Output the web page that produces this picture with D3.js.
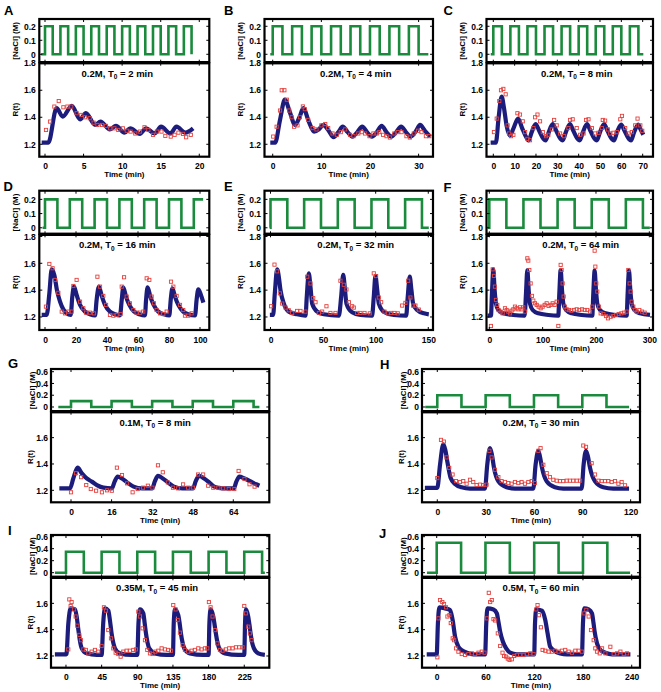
<!DOCTYPE html>
<html><head><meta charset="utf-8">
<script src="https://cdn.jsdelivr.net/npm/d3@7"></script>
<style>
body{margin:0;background:#fff}
svg{display:block}
text{font-family:"Liberation Sans",Arial,Helvetica,sans-serif;font-weight:bold;fill:#000}
.tl text{font-family:"Liberation Sans Narrow","Arial Narrow","Liberation Sans",sans-serif}
</style>
</head><body>
<svg id="c" width="661" height="692"></svg>
<script>
// ---------------- DATA ----------------
// NaCl step protocols: [time (min), concentration (M)]
const naclA=[[-0.5,0],[0,0.2],[1,0],[2,0.2],[3,0],[4,0.2],[5,0],[6,0.2],[7,0],[8,0.2],[9,0],[10,0.2],[11,0],[12,0.2],[13,0],[14,0.2],[15,0],[16,0.2],[17,0],[18,0.2],[19,0]];
const naclB=[[-0.5,0],[0,0.2],[2,0],[4,0.2],[6,0],[8,0.2],[10,0],[12,0.2],[14,0],[16,0.2],[18,0],[20,0.2],[22,0],[24,0.2],[26,0],[28,0.2],[30,0],[32,0]];
const naclC=[[-1.2,0],[0,0.2],[4,0],[8,0.2],[12,0],[16,0.2],[20,0],[24,0.2],[28,0],[32,0.2],[36,0],[40,0.2],[44,0],[48,0.2],[52,0],[56,0.2],[60,0],[64,0.2],[68,0],[70.3,0]];
const naclD=[[-1.5,0],[0,0.2],[8,0],[16,0.2],[24,0],[32,0.2],[40,0],[48,0.2],[56,0],[64,0.2],[72,0],[80,0.2],[88,0],[96,0.2],[102,0.2]];
const naclE=[[-0.8,0],[0,0.2],[16,0],[32,0.2],[48,0],[64,0.2],[80,0],[96,0.2],[112,0],[128,0.2],[144,0],[150.5,0]];
const naclF=[[-3,0],[0,0.2],[32,0],[64,0.2],[96,0],[128,0.2],[160,0],[192,0.2],[224,0],[256,0.2],[288,0],[301,0]];
const naclG=[[-5,0],[0,0.1],[8,0],[16,0.1],[24,0],[32,0.1],[40,0],[48,0.1],[56,0],[64,0.1],[72,0],[74.3,0]];
const naclH=[[-7.5,0],[0,0.2],[15,0],[30,0.2],[45,0],[60,0.2],[75,0],[90,0.2],[105,0],[119,0]];
const naclI=[[-14,0],[0,0.35],[22.5,0],[45,0.35],[67.5,0],[90,0.35],[112.5,0],[135,0.35],[157.5,0],[180,0.35],[202.5,0],[225,0.35],[247.5,0],[251,0]];
const naclJ=[[-12,0],[0,0.5],[30,0],[60,0.5],[90,0],[120,0.5],[150,0],[180,0.5],[210,0],[238,0]];

// Model curves R(t): [time, R]
const modelA=[[-0.43,1.212],[0.43,1.212],[1.5,1.467],[2.3,1.405],[3.47,1.484],[4.55,1.385],[5.3,1.43],[6.5,1.343],[7.2,1.368],[8.4,1.31],[9.2,1.336],[10.3,1.286],[11.05,1.318],[12.3,1.277],[13.1,1.318],[14.2,1.28],[15.05,1.33],[16.25,1.28],[17.05,1.33],[18.2,1.286],[19.2,1.318]];
const modelB=[[-0.5,1.212],[0.5,1.212],[1.5,1.38],[2.5,1.53],[3.5,1.44],[4.6,1.343],[5.5,1.40],[6.3,1.467],[7.4,1.37],[8.5,1.294],[9.5,1.31],[10.4,1.343],[11.5,1.30],[12.5,1.252],[13.5,1.29],[14.4,1.331],[15.4,1.29],[16.4,1.257],[17.4,1.29],[18.4,1.331],[19.4,1.29],[20.4,1.257],[21.4,1.29],[22.4,1.336],[23.4,1.29],[24.4,1.257],[25.4,1.29],[26.4,1.331],[27.4,1.29],[28.4,1.257],[29.4,1.295],[30.3,1.343],[31.3,1.30],[32.4,1.257]];
const modelC=[[-1.25,1.212],[1.2,1.212],[2.5,1.40],[3.9,1.553],[5,1.47],[6.2,1.34],[7.8,1.265],[9.5,1.32],[11.6,1.39],[13.5,1.32],[15.5,1.25],[16.5,1.228],[18,1.29],[19.8,1.35],[21.5,1.30],[23.5,1.24],[24.5,1.228],[26,1.29],[27.8,1.35],[29.5,1.30],[31.5,1.24],[32.5,1.228],[34,1.29],[35.9,1.35],[37.5,1.30],[39.5,1.24],[40.5,1.228],[42,1.29],[43.9,1.35],[45.5,1.30],[47.5,1.24],[48.5,1.228],[50,1.29],[51.9,1.35],[53.5,1.30],[55.5,1.24],[56.5,1.228],[58,1.29],[59.9,1.345],[61.5,1.30],[63.5,1.24],[64.5,1.228],[66,1.29],[67.9,1.345],[69,1.31],[70.3,1.27]];
const modelD=[[-2.15,1.215],[1.08,1.215],[2.8,1.376],[4.3,1.555],[6.0,1.513],[7.7,1.40],[9.7,1.314],[11.8,1.257],[14,1.227],[16.6,1.215],[17.6,1.35],[18.7,1.426],[20.4,1.364],[22.6,1.29],[25.8,1.24],[29,1.22],[32.3,1.212],[33.3,1.327],[34.8,1.426],[36.6,1.357],[38.7,1.29],[41.9,1.24],[45.2,1.22],[48.4,1.212],[49.5,1.327],[50.5,1.42],[52.3,1.35],[54.4,1.29],[57.4,1.24],[60.9,1.22],[64.5,1.212],[65.2,1.327],[66.2,1.42],[68,1.35],[70.1,1.29],[73.1,1.24],[76.8,1.22],[80.2,1.212],[81.1,1.327],[82.2,1.414],[83.9,1.35],[86,1.29],[89.2,1.24],[92.5,1.22],[96.8,1.212],[97.8,1.327],[98.9,1.406],[100.6,1.364],[102.2,1.307]];
const modelE=[[-0.6,1.215],[2.5,1.215],[4.1,1.376],[6.3,1.555],[7.9,1.50],[9.5,1.40],[12.7,1.30],[17.4,1.24],[25.3,1.22],[33.3,1.21],[34.5,1.352],[36.4,1.525],[38,1.426],[39.6,1.30],[44.4,1.24],[50.7,1.22],[65,1.21],[67.2,1.352],[69.1,1.513],[70.7,1.414],[72.2,1.30],[77.6,1.235],[85.6,1.215],[96.6,1.21],[98.2,1.352],[99.8,1.506],[101.4,1.406],[103,1.30],[108.4,1.235],[117.2,1.215],[129,1.21],[130.5,1.352],[132.4,1.50],[134,1.40],[135.6,1.30],[139.4,1.252],[145.8,1.227],[150.5,1.22]];
const modelF=[[-3.1,1.21],[3.1,1.21],[5,1.376],[7.5,1.555],[10,1.40],[12.5,1.30],[16.9,1.252],[26.3,1.227],[45,1.215],[66.3,1.21],[68.8,1.376],[71.3,1.55],[73.8,1.40],[76.3,1.30],[81.3,1.252],[91.9,1.227],[110.6,1.215],[129.4,1.21],[131.3,1.376],[133.8,1.55],[136.3,1.40],[138.8,1.30],[143.8,1.252],[154.4,1.227],[173.1,1.215],[193.1,1.21],[195,1.376],[197.5,1.545],[200,1.40],[202.5,1.30],[207.5,1.252],[218.1,1.227],[236.9,1.215],[257.5,1.21],[259.4,1.376],[261.9,1.545],[264.4,1.40],[266.9,1.30],[271.9,1.252],[282.5,1.227],[301.3,1.215]];
const modelG=[[-4.6,1.215],[-0.4,1.215],[0.9,1.29],[2.6,1.372],[4.2,1.33],[6.2,1.29],[8.2,1.266],[10.2,1.24],[12.8,1.22],[16.1,1.215],[17.2,1.266],[18.4,1.304],[20.1,1.29],[22.1,1.26],[24.7,1.228],[28,1.215],[32,1.215],[33.1,1.27],[34.3,1.31],[36.2,1.29],[38.2,1.26],[40.6,1.228],[43.9,1.215],[48.1,1.215],[49.2,1.27],[50.5,1.31],[52.5,1.29],[54.5,1.26],[56.5,1.228],[59.8,1.215],[64.2,1.215],[65.2,1.266],[66.4,1.304],[68.4,1.29],[71,1.266],[73,1.246],[74.3,1.235]];
const modelH=[[-7.7,1.218],[0,1.218],[1.7,1.394],[3.7,1.55],[5,1.507],[6.2,1.42],[8.3,1.293],[11,1.248],[15.1,1.223],[20.3,1.213],[29.6,1.213],[31,1.394],[32.7,1.52],[33.9,1.47],[35.2,1.37],[37.9,1.268],[43,1.223],[48.2,1.213],[59.6,1.213],[61,1.394],[62.7,1.50],[63.7,1.457],[65,1.37],[67.9,1.268],[73,1.223],[78.2,1.213],[89.6,1.213],[90.8,1.394],[92.3,1.50],[93.5,1.457],[94.8,1.37],[97.9,1.268],[103,1.223],[109.2,1.213],[119,1.213]];
const modelI=[[-14,1.213],[0.5,1.213],[3,1.45],[5.9,1.562],[11.4,1.554],[13.5,1.50],[15.6,1.40],[17.8,1.31],[19.8,1.26],[26,1.22],[38.7,1.208],[45,1.208],[47,1.45],[49.2,1.562],[53.4,1.545],[55.5,1.47],[57.6,1.37],[59.7,1.30],[61.8,1.258],[68,1.22],[82.8,1.208],[90,1.208],[91.5,1.45],[93.4,1.554],[97.6,1.524],[99.3,1.45],[101,1.37],[103,1.30],[105.1,1.258],[112.3,1.22],[127,1.208],[135,1.208],[136,1.45],[137.5,1.554],[141.7,1.51],[143.4,1.45],[145.1,1.37],[147.2,1.30],[149.3,1.258],[156.4,1.22],[173.3,1.208],[180,1.208],[181,1.45],[182.5,1.554],[185.9,1.50],[187.5,1.44],[189.2,1.37],[191.3,1.30],[193.4,1.258],[200.6,1.22],[217.4,1.208],[225,1.208],[226,1.45],[227.1,1.554],[230,1.50],[231.5,1.44],[233,1.37],[235,1.30],[237.2,1.258],[242.6,1.22],[251,1.208]];
const modelJ=[[-12.3,1.213],[0,1.213],[1.5,1.45],[3.3,1.57],[10.3,1.562],[16.4,1.55],[18,1.52],[19.7,1.47],[22.6,1.347],[26.7,1.27],[30.8,1.245],[37,1.225],[45.2,1.213],[59.6,1.213],[61,1.45],[62.5,1.562],[69.9,1.554],[74,1.524],[76,1.46],[78.1,1.384],[81.4,1.31],[85.5,1.258],[90.4,1.225],[98.6,1.213],[120,1.213],[121,1.45],[122.5,1.554],[129.5,1.544],[133.6,1.473],[136.5,1.372],[139.7,1.27],[144.7,1.24],[152,1.22],[160.3,1.213],[178.8,1.213],[180,1.45],[181.7,1.562],[187,1.554],[191.1,1.524],[193,1.45],[194.4,1.384],[197.3,1.296],[201.4,1.246],[207.6,1.225],[215.8,1.213],[238.4,1.213]];

// Measured data R(t): [time, R]
const dataA=[[0.13,1.306],[0.65,1.368],[1.21,1.479],[1.78,1.52],[2.38,1.474],[2.9,1.479],[3.4,1.479],[4.1,1.43],[4.7,1.417],[5.2,1.40],[5.8,1.393],[6.3,1.36],[6.8,1.343],[7.4,1.343],[7.9,1.336],[8.45,1.318],[9,1.318],[9.5,1.306],[10.1,1.318],[10.6,1.30],[11.1,1.294],[11.7,1.28],[12.3,1.294],[12.9,1.326],[13.4,1.306],[14,1.27],[14.5,1.294],[15.1,1.294],[15.6,1.262],[16.3,1.257],[16.8,1.27],[17.3,1.286],[17.9,1.277],[18.3,1.252],[18.9,1.27]];
const dataB=[[0.1,1.257],[0.8,1.33],[1.5,1.45],[1.85,1.6],[2.4,1.6],[2.9,1.53],[3.4,1.45],[3.9,1.40],[4.4,1.33],[5.1,1.34],[5.6,1.40],[6.2,1.48],[6.6,1.46],[7.3,1.38],[8.2,1.32],[9,1.31],[10,1.34],[10.8,1.35],[11.4,1.32],[12.3,1.28],[13.2,1.27],[14,1.29],[14.9,1.31],[15.9,1.27],[16.6,1.26],[17.6,1.28],[18.3,1.29],[19,1.28],[19.9,1.26],[20.7,1.28],[21.4,1.28],[21.9,1.29],[22.7,1.27],[23.4,1.26],[24.1,1.25],[25,1.28],[25.7,1.29],[26.5,1.29],[27.5,1.26],[28.2,1.25],[29,1.28],[29.9,1.30],[30.6,1.29],[31.5,1.26],[32.2,1.26]];
const dataC=[[0.3,1.29],[1.6,1.39],[2.8,1.52],[3.6,1.6],[4.7,1.61],[5.8,1.57],[6.7,1.34],[7.4,1.28],[8.3,1.26],[9.4,1.27],[11.3,1.43],[12.5,1.42],[13.8,1.37],[14.9,1.29],[16,1.24],[17.2,1.23],[18.8,1.32],[19.6,1.40],[20.7,1.42],[21.9,1.37],[23.2,1.29],[24.7,1.26],[25.8,1.27],[27.4,1.31],[28.5,1.38],[29.7,1.34],[31.3,1.28],[33.2,1.26],[35.2,1.32],[36,1.38],[37.2,1.385],[39.1,1.32],[40.7,1.27],[42.3,1.28],[43.5,1.38],[44.6,1.385],[46.2,1.32],[47.7,1.28],[49.3,1.285],[50.9,1.32],[51.3,1.38],[52.4,1.375],[53.7,1.31],[54.8,1.28],[56.3,1.285],[57.9,1.29],[59.5,1.385],[60.3,1.41],[61.8,1.32],[63.4,1.28],[64.9,1.29],[66.5,1.34],[67.6,1.39],[68.9,1.34],[69.8,1.30]];
const dataD=[[0.6,1.277],[2.8,1.595],[4.9,1.563],[6.5,1.476],[8.6,1.38],[10.8,1.24],[12.9,1.227],[15.1,1.24],[17.2,1.24],[18.3,1.431],[20.4,1.476],[22.6,1.314],[24.7,1.265],[26.5,1.232],[29,1.232],[31.6,1.227],[33.8,1.50],[35.5,1.426],[37.6,1.357],[39.4,1.29],[41.9,1.215],[44.1,1.21],[46.2,1.215],[48.8,1.222],[49.5,1.426],[51,1.496],[52.7,1.352],[54.8,1.302],[57,1.252],[59.1,1.232],[61.3,1.232],[63.4,1.24],[65.6,1.488],[67.3,1.476],[68.8,1.352],[70.3,1.302],[72,1.252],[74.2,1.227],[76.3,1.222],[78.5,1.24],[81.3,1.463],[82.8,1.426],[84.9,1.357],[87.1,1.29],[89.2,1.252],[90.3,1.21],[92.5,1.21],[94.6,1.227]];
const dataE=[[0.6,1.28],[3.8,1.59],[6.3,1.54],[8.9,1.376],[11.1,1.30],[14.3,1.27],[17.4,1.25],[20.6,1.23],[25.3,1.245],[28.5,1.245],[33.3,1.24],[34.9,1.50],[38,1.45],[40.6,1.34],[42.8,1.31],[46,1.23],[49.1,1.24],[53.2,1.28],[57,1.23],[61.8,1.23],[66.5,1.47],[69.7,1.44],[72.2,1.405],[74.5,1.31],[77.6,1.28],[79.2,1.27],[82.4,1.23],[85.5,1.23],[89.4,1.23],[94.4,1.227],[98.2,1.525],[100.4,1.505],[103,1.345],[105.2,1.31],[108.4,1.24],[111.5,1.227],[114.7,1.23],[117.9,1.23],[121,1.227],[125.2,1.285],[128.3,1.305],[130.9,1.47],[133,1.345],[135.6,1.285],[137.8,1.285],[141,1.255]];
const dataF=[[3.1,1.133],[6.3,1.555],[8.8,1.506],[10.6,1.426],[12.5,1.327],[15,1.29],[17.5,1.252],[21.3,1.24],[25,1.227],[29.4,1.265],[32.5,1.252],[35.6,1.24],[38.8,1.227],[41.9,1.247],[45,1.257],[48.1,1.277],[51.3,1.265],[54.4,1.257],[57.5,1.272],[60.6,1.257],[63.8,1.272],[66.9,1.24],[71.3,1.637],[73.1,1.62],[75,1.55],[77.5,1.45],[80,1.357],[82.5,1.322],[85.6,1.302],[88.8,1.29],[92.5,1.277],[96.3,1.265],[100,1.277],[103.8,1.29],[107.5,1.302],[111.3,1.282],[115,1.29],[118.8,1.302],[122.5,1.29],[126.3,1.314],[129.4,1.133],[133.8,1.588],[135.6,1.55],[137.5,1.45],[139.4,1.352],[141.9,1.277],[145,1.257],[149.4,1.252],[153.8,1.247],[158.8,1.252],[163.8,1.257],[168.8,1.252],[173.8,1.257],[178.8,1.252],[183.8,1.252],[188.8,1.24],[193.1,1.277],[197.5,1.694],[198.8,1.575],[200.6,1.45],[202.5,1.389],[205.6,1.277],[208.8,1.227],[213.8,1.222],[218.8,1.207],[222.5,1.19],[227.5,1.202],[232.5,1.207],[237.5,1.215],[242.5,1.222],[247.5,1.227],[252.5,1.232],[257.5,1.24],[260.6,1.55],[263.1,1.45],[265,1.389],[266.9,1.314],[270,1.277],[273.1,1.252],[276.3,1.24],[281.3,1.252],[286.3,1.24],[291.3,1.232]];
const dataG=[[0,1.185],[2,1.33],[4,1.30],[6,1.24],[7.8,1.21],[9.9,1.197],[12.2,1.185],[14.2,1.20],[16.1,1.197],[18.1,1.372],[20.1,1.316],[22.1,1.253],[24.3,1.185],[26.3,1.21],[28.4,1.22],[30.3,1.235],[32.1,1.22],[34.3,1.39],[36.2,1.337],[38.2,1.26],[40.2,1.22],[42.2,1.215],[44.2,1.245],[46.2,1.22],[48.1,1.22],[50.1,1.32],[52.1,1.32],[54.1,1.235],[56.1,1.22],[58.1,1.22],[60,1.215],[62.2,1.21],[64.4,1.21],[66.1,1.347],[68.4,1.286],[70.4,1.246],[72.4,1.228]];
const dataH=[[0,1.293],[2.3,1.583],[4.1,1.57],[5.8,1.45],[7.4,1.37],[9.5,1.32],[11.6,1.27],[14.1,1.263],[16.1,1.27],[18.2,1.25],[20.3,1.28],[22.3,1.263],[24.4,1.24],[26.5,1.243],[28.6,1.24],[30.6,1.243],[32.3,1.50],[33.7,1.45],[35.8,1.356],[37.9,1.30],[39.9,1.27],[42,1.263],[44.1,1.255],[46.1,1.25],[48.2,1.263],[50.3,1.255],[52.3,1.263],[54.4,1.25],[56.5,1.263],[58.6,1.27],[60.6,1.255],[62.7,1.50],[64.1,1.52],[65.8,1.394],[67.9,1.33],[69.9,1.30],[72,1.28],[74.1,1.273],[76.1,1.27],[78.2,1.27],[80.3,1.273],[82.3,1.273],[84.4,1.273],[86.5,1.273],[88.6,1.273],[90.6,1.54],[92.3,1.53],[95.8,1.406],[97.9,1.32],[100,1.273],[102,1.27],[104.1,1.27],[106.1,1.27],[108.2,1.263],[110.3,1.27],[112.4,1.25],[114.4,1.263],[116.5,1.238]];
const dataI=[[2.9,1.25],[4.2,1.63],[5.9,1.58],[7.1,1.61],[10.1,1.554],[12.2,1.50],[14.3,1.43],[16.8,1.36],[18.9,1.32],[21.9,1.25],[25.2,1.246],[28.2,1.22],[32.4,1.233],[36.6,1.246],[40.8,1.233],[45,1.276],[47.9,1.57],[50.5,1.544],[53.4,1.397],[56.8,1.334],[59.7,1.258],[62.7,1.225],[66,1.215],[69,1.195],[72.3,1.233],[76.5,1.24],[80.7,1.24],[85,1.246],[88.3,1.25],[91.3,1.537],[93.4,1.5],[96.7,1.41],[99.7,1.32],[102.6,1.246],[106,1.22],[109.3,1.215],[112.7,1.233],[116.5,1.24],[120.7,1.258],[124.9,1.25],[129.1,1.246],[132.5,1.24],[135.4,1.587],[138.4,1.554],[140.9,1.473],[143.8,1.377],[147.2,1.283],[150.1,1.246],[154.3,1.233],[158.5,1.24],[162.7,1.246],[167,1.258],[171.1,1.25],[175.4,1.258],[178.3,1.258],[180.4,1.61],[182.5,1.57],[185,1.5],[188,1.397],[191,1.296],[194.3,1.246],[197.6,1.24],[201.8,1.25],[206,1.258],[210.3,1.258],[214.5,1.266],[218.7,1.266],[222.9,1.266],[225,1.58],[227.1,1.524],[230,1.423],[232.1,1.372],[234.2,1.32]];
const dataJ=[[0.8,1.19],[2.1,1.486],[4.1,1.625],[6.9,1.61],[9,1.595],[11.5,1.57],[13.2,1.5],[15.6,1.51],[17.3,1.45],[19.7,1.334],[21.4,1.32],[23.8,1.258],[26.7,1.233],[30.8,1.215],[34.9,1.208],[39,1.215],[43.2,1.22],[47.3,1.215],[51.4,1.225],[55.5,1.233],[58.8,1.225],[61.7,1.486],[64.1,1.68],[65.8,1.61],[67.8,1.625],[69.9,1.48],[71.9,1.47],[75.2,1.372],[78.1,1.276],[81,1.225],[83,1.2],[85.5,1.195],[87.5,1.18],[89.6,1.17],[92.5,1.175],[95.4,1.2],[98.6,1.208],[102.8,1.208],[106.9,1.208],[111,1.215],[115.1,1.22],[119.2,1.215],[122.5,1.554],[124.1,1.587],[125.8,1.51],[128.2,1.418],[130.3,1.246],[133.6,1.24],[137.7,1.233],[141.8,1.233],[145.9,1.24],[150,1.233],[154.1,1.24],[158.2,1.246],[162.4,1.233],[166.5,1.225],[170.6,1.24],[174.7,1.24],[178.8,1.233],[181.7,1.524],[184.1,1.55],[187,1.5],[189.9,1.397],[193.2,1.32],[195.2,1.258],[197.3,1.233],[200.6,1.22],[203.5,1.258],[207.6,1.22],[213.7,1.27],[217.8,1.215],[222,1.22],[226.1,1.233],[230.2,1.215],[234.3,1.22]];

// Tick labels
const ticksTimeA=[0,5,10,15,20], ticksTimeB=[0,10,20,30], ticksTimeC=[0,10,20,30,40,50,60,70];
const ticksTimeD=[0,20,40,60,80,100], ticksTimeE=[0,50,100,150], ticksTimeF=[0,100,200,300];
const ticksTimeG=[0,16,32,48,64], ticksTimeH=[0,30,60,90,120], ticksTimeI=[0,45,90,135,180,225], ticksTimeJ=[0,60,120,180,240];
const ticksNaclSmall=[0,0.1,0.2], ticksNaclLarge=[0,0.2,0.4,0.6];
const ticksRFull=[1.2,1.4,1.6,1.8], ticksRShort=[1.2,1.4,1.6];

// Panel titles: [concentration, period]
const titles={A:["0.2M","2"],B:["0.2M","4"],C:["0.2M","8"],D:["0.2M","16"],E:["0.2M","32"],F:["0.2M","64"],G:["0.1M","8"],H:["0.2M","30"],I:["0.35M","45"],J:["0.5M","60"]};

// ---------------- LAYOUT ----------------
const rows={
  r1:{yTop:19,yDiv:62.7,yBot:156.7,nDom:[-0.06,0.252],rDom:[1.108,1.804],nT:ticksNaclSmall,rT:ticksRFull,ylOff:24.5,tickLblGap:3.5},
  r2:{yTop:190.7,yDiv:234.3,yBot:330,nDom:[-0.046,0.261],rDom:[1.103,1.816],nT:ticksNaclSmall,rT:ticksRFull,ylOff:24.5,tickLblGap:3.5},
  r3:{yTop:369,yDiv:411.7,yBot:502.3,nDom:[-0.08,0.646],rDom:[1.109,1.797],nT:ticksNaclLarge,rT:ticksRShort,ylOff:18.5,ylOffR:21,tickLblGap:3},
  r4:{yTop:535,yDiv:577.3,yBot:667.7,nDom:[-0.077,0.628],rDom:[1.111,1.798],nT:ticksNaclLarge,rT:ticksRShort,ylOff:18.5,ylOffR:21,tickLblGap:3}
};
const panels=[
  {id:"A",row:"r1",x0:39.3,x1:209.3,xDom:[-0.74,21.3],xT:ticksTimeA,nacl:naclA,model:modelA,data:dataA,tdx:-7,lx:4,ly:14.5},
  {id:"B",row:"r1",x0:264.5,x1:433,xDom:[-1.69,32.96],xT:ticksTimeB,nacl:naclB,model:modelB,data:dataB,tdx:7,lx:224,ly:14.5},
  {id:"C",row:"r1",x0:486.5,x1:653,xDom:[-3.19,74.84],xT:ticksTimeC,nacl:naclC,model:modelC,data:dataC,tdx:7,lx:443.5,ly:14.5},
  {id:"D",row:"r2",x0:39.3,x1:209.3,xDom:[-3.68,106],xT:ticksTimeD,nacl:naclD,model:modelD,data:dataD,tdx:-7,lx:3.5,ly:191},
  {id:"E",row:"r2",x0:264.5,x1:433,xDom:[-5.7,154.5],xT:ticksTimeE,nacl:naclE,model:modelE,data:dataE,tdx:7,lx:224,ly:191},
  {id:"F",row:"r2",x0:486.5,x1:653,xDom:[-5.25,306.9],xT:ticksTimeF,nacl:naclF,model:modelF,data:dataF,tdx:11,lx:443.5,ly:192},
  {id:"G",row:"r3",x0:51,x1:269.3,xDom:[-7.89,78.2],xT:ticksTimeG,nacl:naclG,model:modelG,data:dataG,tdx:-5,lx:8,ly:368},
  {id:"H",row:"r3",x0:422,x1:640,xDom:[-9.49,125.8],xT:ticksTimeH,nacl:naclH,model:modelH,data:dataH,tdx:10,lx:380,ly:369},
  {id:"I",row:"r4",x0:51,x1:269.3,xDom:[-18.9,256.6],xT:ticksTimeI,nacl:naclI,model:modelI,data:dataI,tdx:-3,lx:8,ly:535},
  {id:"J",row:"r4",x0:422,x1:640,xDom:[-18.1,250.2],xT:ticksTimeJ,nacl:naclJ,model:modelJ,data:dataJ,tdx:10,lx:379,ly:538}
];

const GREEN="#1a8a3c", NAVY="#1c1c7c", RED="#e5403c";
const svg=d3.select("#c");
const defs=svg.append("defs");
const fmtN=d=>d===0?"0":d3.format(".1f")(d);
const fmtR=d3.format(".1f");
const TL=3; // tick length

function drawPanel(p){
  const r=rows[p.row];
  const g=svg.append("g").attr("class","panel-"+p.id);
  const x=d3.scaleLinear().domain(p.xDom).range([p.x0,p.x1]);
  const yN=d3.scaleLinear().domain(r.nDom).range([r.yDiv,r.yTop]);
  const yR=d3.scaleLinear().domain(r.rDom).range([r.yBot,r.yDiv]);

  defs.append("clipPath").attr("id","ct"+p.id).append("rect")
    .attr("x",p.x0).attr("y",r.yTop).attr("width",p.x1-p.x0).attr("height",r.yDiv-r.yTop);
  defs.append("clipPath").attr("id","cb"+p.id).append("rect")
    .attr("x",p.x0).attr("y",r.yDiv).attr("width",p.x1-p.x0).attr("height",r.yBot-r.yDiv);

  g.append("path").datum(p.nacl).attr("clip-path","url(#ct"+p.id+")")
    .attr("d",d3.line().x(d=>x(d[0])).y(d=>yN(d[1])).curve(d3.curveStepAfter))
    .attr("fill","none").attr("stroke",GREEN).attr("stroke-width",2.6).attr("stroke-linejoin","miter");

  g.append("path").datum(p.model).attr("clip-path","url(#cb"+p.id+")")
    .attr("d",d3.line().x(d=>x(d[0])).y(d=>yR(d[1])).curve(d3.curveMonotoneX))
    .attr("fill","none").attr("stroke",NAVY).attr("stroke-width",4.2).attr("stroke-linejoin","round");

  const s=3.2;
  g.append("g").attr("clip-path","url(#cb"+p.id+")").selectAll("rect").data(p.data).join("rect")
    .attr("x",d=>x(d[0])-s/2).attr("y",d=>yR(d[1])-s/2).attr("width",s).attr("height",s)
    .attr("fill","none").attr("stroke",RED).attr("stroke-width",0.9);

  const tk=g.append("g").attr("stroke","#000").attr("stroke-width",1);
  p.xT.forEach(v=>{
    const xv=x(v);
    [[r.yTop,1],[r.yDiv,-1],[r.yDiv,1],[r.yBot,-1]].forEach(([yy,dir])=>{
      tk.append("line").attr("x1",xv).attr("x2",xv).attr("y1",yy).attr("y2",yy+dir*TL);
    });
  });
  r.nT.forEach(v=>{
    const yv=yN(v);
    tk.append("line").attr("x1",p.x0).attr("x2",p.x0+TL).attr("y1",yv).attr("y2",yv);
    tk.append("line").attr("x1",p.x1).attr("x2",p.x1-TL).attr("y1",yv).attr("y2",yv);
  });
  r.rT.forEach(v=>{
    const yv=yR(v);
    tk.append("line").attr("x1",p.x0).attr("x2",p.x0+TL).attr("y1",yv).attr("y2",yv);
    tk.append("line").attr("x1",p.x1).attr("x2",p.x1-TL).attr("y1",yv).attr("y2",yv);
  });

  g.append("rect").attr("x",p.x0).attr("y",r.yTop).attr("width",p.x1-p.x0).attr("height",r.yDiv-r.yTop-0.6)
    .attr("fill","none").attr("stroke","#000").attr("stroke-width",2.2);
  g.append("rect").attr("x",p.x0).attr("y",r.yDiv+0.6).attr("width",p.x1-p.x0).attr("height",r.yBot-r.yDiv-0.6)
    .attr("fill","none").attr("stroke","#000").attr("stroke-width",2.2);

  const fs=8.5;
  const ax=g.append("g").attr("class","tl").attr("transform","translate(0,"+r.yBot+")")
    .call(d3.axisBottom(x).tickValues(p.xT).tickSize(0).tickPadding(6.5).tickFormat(d3.format("d")));
  ax.select(".domain").remove();
  ax.attr("font-family",null).attr("font-size",null);
  ax.selectAll("text").attr("font-size",fs).attr("fill","#000");

  const ayN=g.append("g").attr("class","tl").attr("transform","translate("+p.x0+",0)")
    .call(d3.axisLeft(yN).tickValues(r.nT).tickSize(0).tickPadding(r.tickLblGap).tickFormat(fmtN));
  ayN.select(".domain").remove();
  ayN.attr("font-family",null).attr("font-size",null);
  ayN.selectAll("text").attr("font-size",fs).attr("fill","#000");

  const ayR=g.append("g").attr("class","tl").attr("transform","translate("+p.x0+",0)")
    .call(d3.axisLeft(yR).tickValues(r.rT).tickSize(0).tickPadding(r.tickLblGap).tickFormat(fmtR));
  ayR.select(".domain").remove();
  ayR.attr("font-family",null).attr("font-size",null);
  ayR.selectAll("text").attr("font-size",fs).attr("fill","#000");

  g.append("text").attr("x",(p.x0+p.x1)/2).attr("y",r.yBot+20.5).attr("text-anchor","middle")
    .attr("font-size",8).text("Time (min)");
  const ylx=p.x0-r.ylOff;
  g.append("text").attr("transform","translate("+ylx+","+((r.yTop+r.yDiv)/2)+") rotate(-90)")
    .attr("text-anchor","middle").attr("dy","0.35em").attr("font-size",8).text("[NaCl] (M)");
  const ylxR=p.x0-(r.ylOffR||r.ylOff);
  g.append("text").attr("transform","translate("+ylxR+","+((r.yDiv+r.yBot)/2)+") rotate(-90)")
    .attr("text-anchor","middle").attr("dy","0.35em").attr("font-size",8).text("R(t)");

  const t=titles[p.id];
  const tt=g.append("text").attr("x",(p.x0+p.x1)/2+p.tdx).attr("y",r.yDiv+14).attr("text-anchor","middle").attr("font-size",9.5);
  tt.append("tspan").text(t[0]+", T");
  tt.append("tspan").attr("font-size",6.5).attr("dy",2.5).text("0");
  tt.append("tspan").attr("dy",-2.5).text(" = "+t[1]+" min");

  g.append("text").attr("x",p.lx).attr("y",p.ly).attr("font-size",13).text(p.id);
}
panels.forEach(drawPanel);
</script>
</body></html>
